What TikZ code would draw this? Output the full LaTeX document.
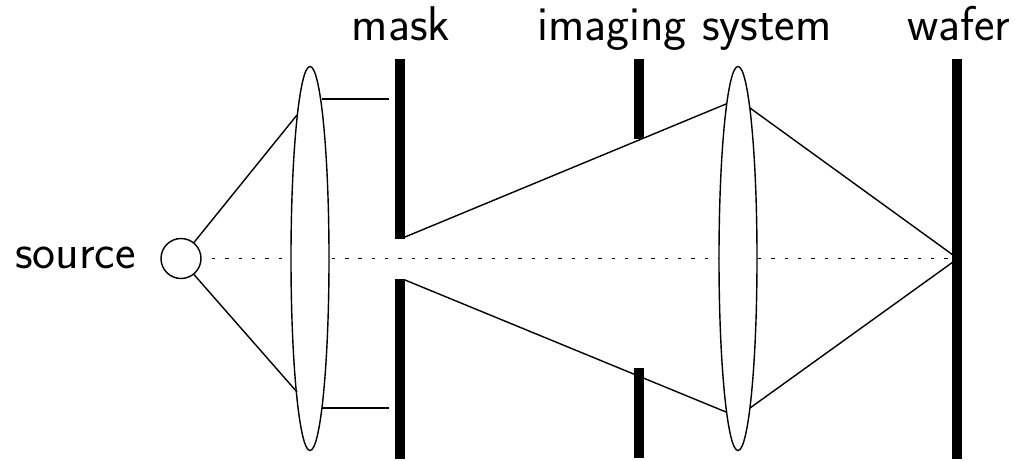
\documentclass[tikz,border=0pt]{standalone}
\usetikzlibrary{shapes.geometric}

\begin{document}
\begin{tikzpicture}[
  x=0.025cm, y=-0.025cm,
  lens/.style={ellipse, draw=black, fill=white, line width=1pt, inner sep=0pt,
               minimum width=0.95cm, minimum height=9.6cm},
  bar/.style={fill=black, inner sep=0pt, minimum width=0.25cm},
  ray/.style={black, line width=1pt},
  lbl/.style={font=\fontsize{34.7}{40}\selectfont\sffamily, inner sep=0pt}
]
  \useasboundingbox (0,0) rectangle (1015,461);

  \node[circle, draw=black, line width=1pt, inner sep=0pt, minimum size=1cm] (src) at (181,258.5) {};
  \coordinate (srcend) at (212,258.5);
  \coordinate (focus) at (953,258.5);

  % axis
  \draw[black, line width=1pt, dash pattern=on 2.4pt off 7.07pt] (srcend) -- (focus);

  \node[lens] (condenser) at (310,258.5) {};
  \node[lens] (objective) at (738,258.5) {};

  \node[bar, minimum height=4.48cm] (masktop) at (400,149) {};
  \node[bar, minimum height=4.5cm] (maskbot) at (400,369) {};
  \node[bar, minimum height=1.99cm] (stoptop) at (639,99) {};
  \node[bar, minimum height=2.23cm] (stopbot) at (639,413) {};
  \node[bar, minimum height=10cm] (wafer) at (957,259) {};

  \coordinate (ca) at (297,115);
  \coordinate (cb) at (297,392);
  \coordinate (cc) at (322,99);
  \coordinate (cd) at (322,408);
  \coordinate (me) at (389,99);
  \coordinate (mf) at (389,408);
  \coordinate (ma) at (405,237);
  \coordinate (mb) at (405,280);
  \coordinate (oa) at (726,104);
  \coordinate (ob) at (726,412);
  \coordinate (oc) at (750,108);
  \coordinate (od) at (750,408);
  \coordinate (wa) at (953,255);
  \coordinate (wb) at (953,262);

  \draw[ray] (src.51) -- (ca);
  \draw[ray] (src.-51) -- (cb);
  \draw[ray] (cc) -- (me);
  \draw[ray] (cd) -- (mf);
  \draw[ray] (ma) -- (oa);
  \draw[ray] (mb) -- (ob);
  \draw[ray] (oc) -- (wa);
  \draw[ray] (od) -- (wb);

  \node[lbl, anchor=base] (sourcelbl) at (75.5,268) {source};
  \node[lbl, anchor=base] (masklbl) at (401,40.5) {mask};
  \node[lbl, anchor=base] (imaginglbl) at (684.5,40.5) {imaging system};
  \node[lbl, anchor=base] (waferlbl) at (959,40.5) {wafer};
\end{tikzpicture}
\end{document}
